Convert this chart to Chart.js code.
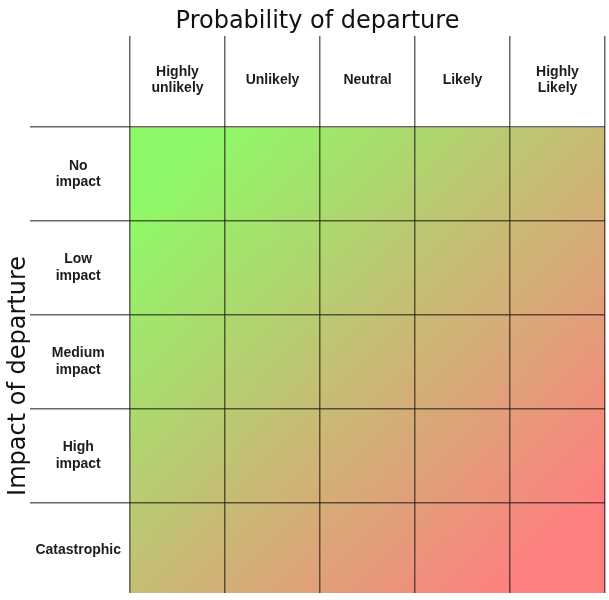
<!DOCTYPE html>
<html>
<head>
<meta charset="utf-8">
<script src="https://cdn.jsdelivr.net/npm/chart.js@4/dist/chart.umd.min.js"></script>
<style>
  html, body { margin: 0; padding: 0; background: #ffffff; }
  #wrap { width: 609px; height: 600px; position: relative; }
</style>
</head>
<body>
<div id="wrap"><canvas id="c"></canvas></div>
<script>
// ---- data ----
const chartTitle = 'Probability of departure';
const yAxisTitle = 'Impact of departure';
const probabilityLabels = [['Highly', 'unlikely'], 'Unlikely', 'Neutral', 'Likely', ['Highly', 'Likely']];
const impactLabels = [['No', 'impact'], ['Low', 'impact'], ['Medium', 'impact'], ['High', 'impact'], 'Catastrophic'];
const noImpactRow = [1, 1, 1, 1, 1];
const lowImpactRow = [1, 1, 1, 1, 1];
const mediumImpactRow = [1, 1, 1, 1, 1];
const highImpactRow = [1, 1, 1, 1, 1];
const catastrophicRow = [1, 1, 1, 1, 1];
const rowValues = [noImpactRow, lowImpactRow, mediumImpactRow, highImpactRow, catastrophicRow];
const visibleImpactExtent = 4.96;   // bottom row is slightly cropped in the reference
const gradientStart = 'rgb(142,249,104)';
const gradientEnd = 'rgb(255,127,128)';

// ---- styles ----
const lineColor = 'rgba(30,25,20,0.66)';
const clearColor = 'rgba(0,0,0,0)';
const labelFont = { family: '"Liberation Sans", Arial, sans-serif', size: 14, weight: 'bold', lineHeight: 1.2 };
const gradientInset = 0.1;

let cachedGradient = null, cachedKey = '';
function cellGradient(ctx) {
  const chart = ctx.chart;
  const a = chart.chartArea;
  if (!a) return gradientStart;
  const key = [a.left, a.top, a.right, a.bottom].join(',');
  if (!cachedGradient || key !== cachedKey) {
    const w = a.right - a.left, h = a.bottom - a.top;
    const g = chart.ctx.createLinearGradient(
      a.left + w * gradientInset, a.top + h * gradientInset,
      a.right - w * gradientInset, a.bottom - h * gradientInset);
    g.addColorStop(0, gradientStart);
    g.addColorStop(1, gradientEnd);
    cachedGradient = g; cachedKey = key;
  }
  return cachedGradient;
}

const yTitlePlugin = {
  id: 'yTitlePlugin',
  afterDraw(chart) {
    const { ctx, scales } = chart;
    const y = scales.y;
    const cy = y.getPixelForValue(2.5) + 14;
    ctx.save();
    ctx.translate(y.left - 5, cy);
    ctx.rotate(-Math.PI / 2);
    ctx.font = '24px "DejaVu Sans", sans-serif';
    ctx.fillStyle = '#111111';
    ctx.textAlign = 'center';
    ctx.textBaseline = 'alphabetic';
    ctx.fillText(yAxisTitle, 0, 0);
    ctx.restore();
  }
};

const datasets = rowValues.map((vals, i) => ({
  label: Array.isArray(impactLabels[i]) ? impactLabels[i].join(' ') : impactLabels[i],
  data: vals,
  stack: 'matrix',
  backgroundColor: cellGradient,
  borderWidth: 0,
  categoryPercentage: 1,
  barPercentage: 1,
  clip: 0
}));

new Chart(document.getElementById('c'), {
  type: 'bar',
  data: { labels: probabilityLabels, datasets },
  plugins: [yTitlePlugin],
  options: {
    responsive: true,
    maintainAspectRatio: false,
    animation: false,
    events: [],
    layout: { padding: { top: 0, left: 30, right: 4, bottom: 7 } },
    plugins: {
      legend: { display: false },
      tooltip: { enabled: false },
      title: {
        display: true,
        text: chartTitle,
        color: '#111111',
        font: { family: '"DejaVu Sans", sans-serif', size: 24, weight: 'normal', lineHeight: 1.2 },
        padding: { top: 7.3, bottom: 0 }
      }
    },
    scales: {
      x: {
        type: 'category',
        position: 'top',
        stacked: true,
        offset: true,
        border: { display: false },
        grid: { display: true, z: 1, offset: true, color: lineColor, lineWidth: 1.5, drawTicks: true, tickLength: 91 },
        ticks: { autoSkip: false, maxRotation: 0, minRotation: 0, crossAlign: 'center', padding: -52.4, color: '#1c1c1c', font: labelFont },
        afterFit(scale) { scale.height = 91; }
      },
      y: {
        type: 'linear',
        reverse: true,
        stacked: true,
        min: 0,
        max: visibleImpactExtent,
        border: { display: false },
        grid: {
          display: true,
          z: 1,
          color: (c) => (c.tick && Number.isInteger(c.tick.value)) ? lineColor : clearColor,
          lineWidth: 1.5,
          drawTicks: true,
          tickLength: 100
        },
        afterBuildTicks(scale) {
          const t = [];
          for (let i = 0; i < impactLabels.length; i++) { t.push({ value: i }); t.push({ value: i + 0.5 }); }
          scale.ticks = t;
        },
        ticks: {
          autoSkip: false,
          crossAlign: 'center',
          padding: -91,
          color: '#1c1c1c',
          font: labelFont,
          callback: (v) => Number.isInteger(v) ? '' : impactLabels[v - 0.5]
        },
        afterFit(scale) { scale.width = 100; }
      }
    }
  }
});
</script>
</body>
</html>
